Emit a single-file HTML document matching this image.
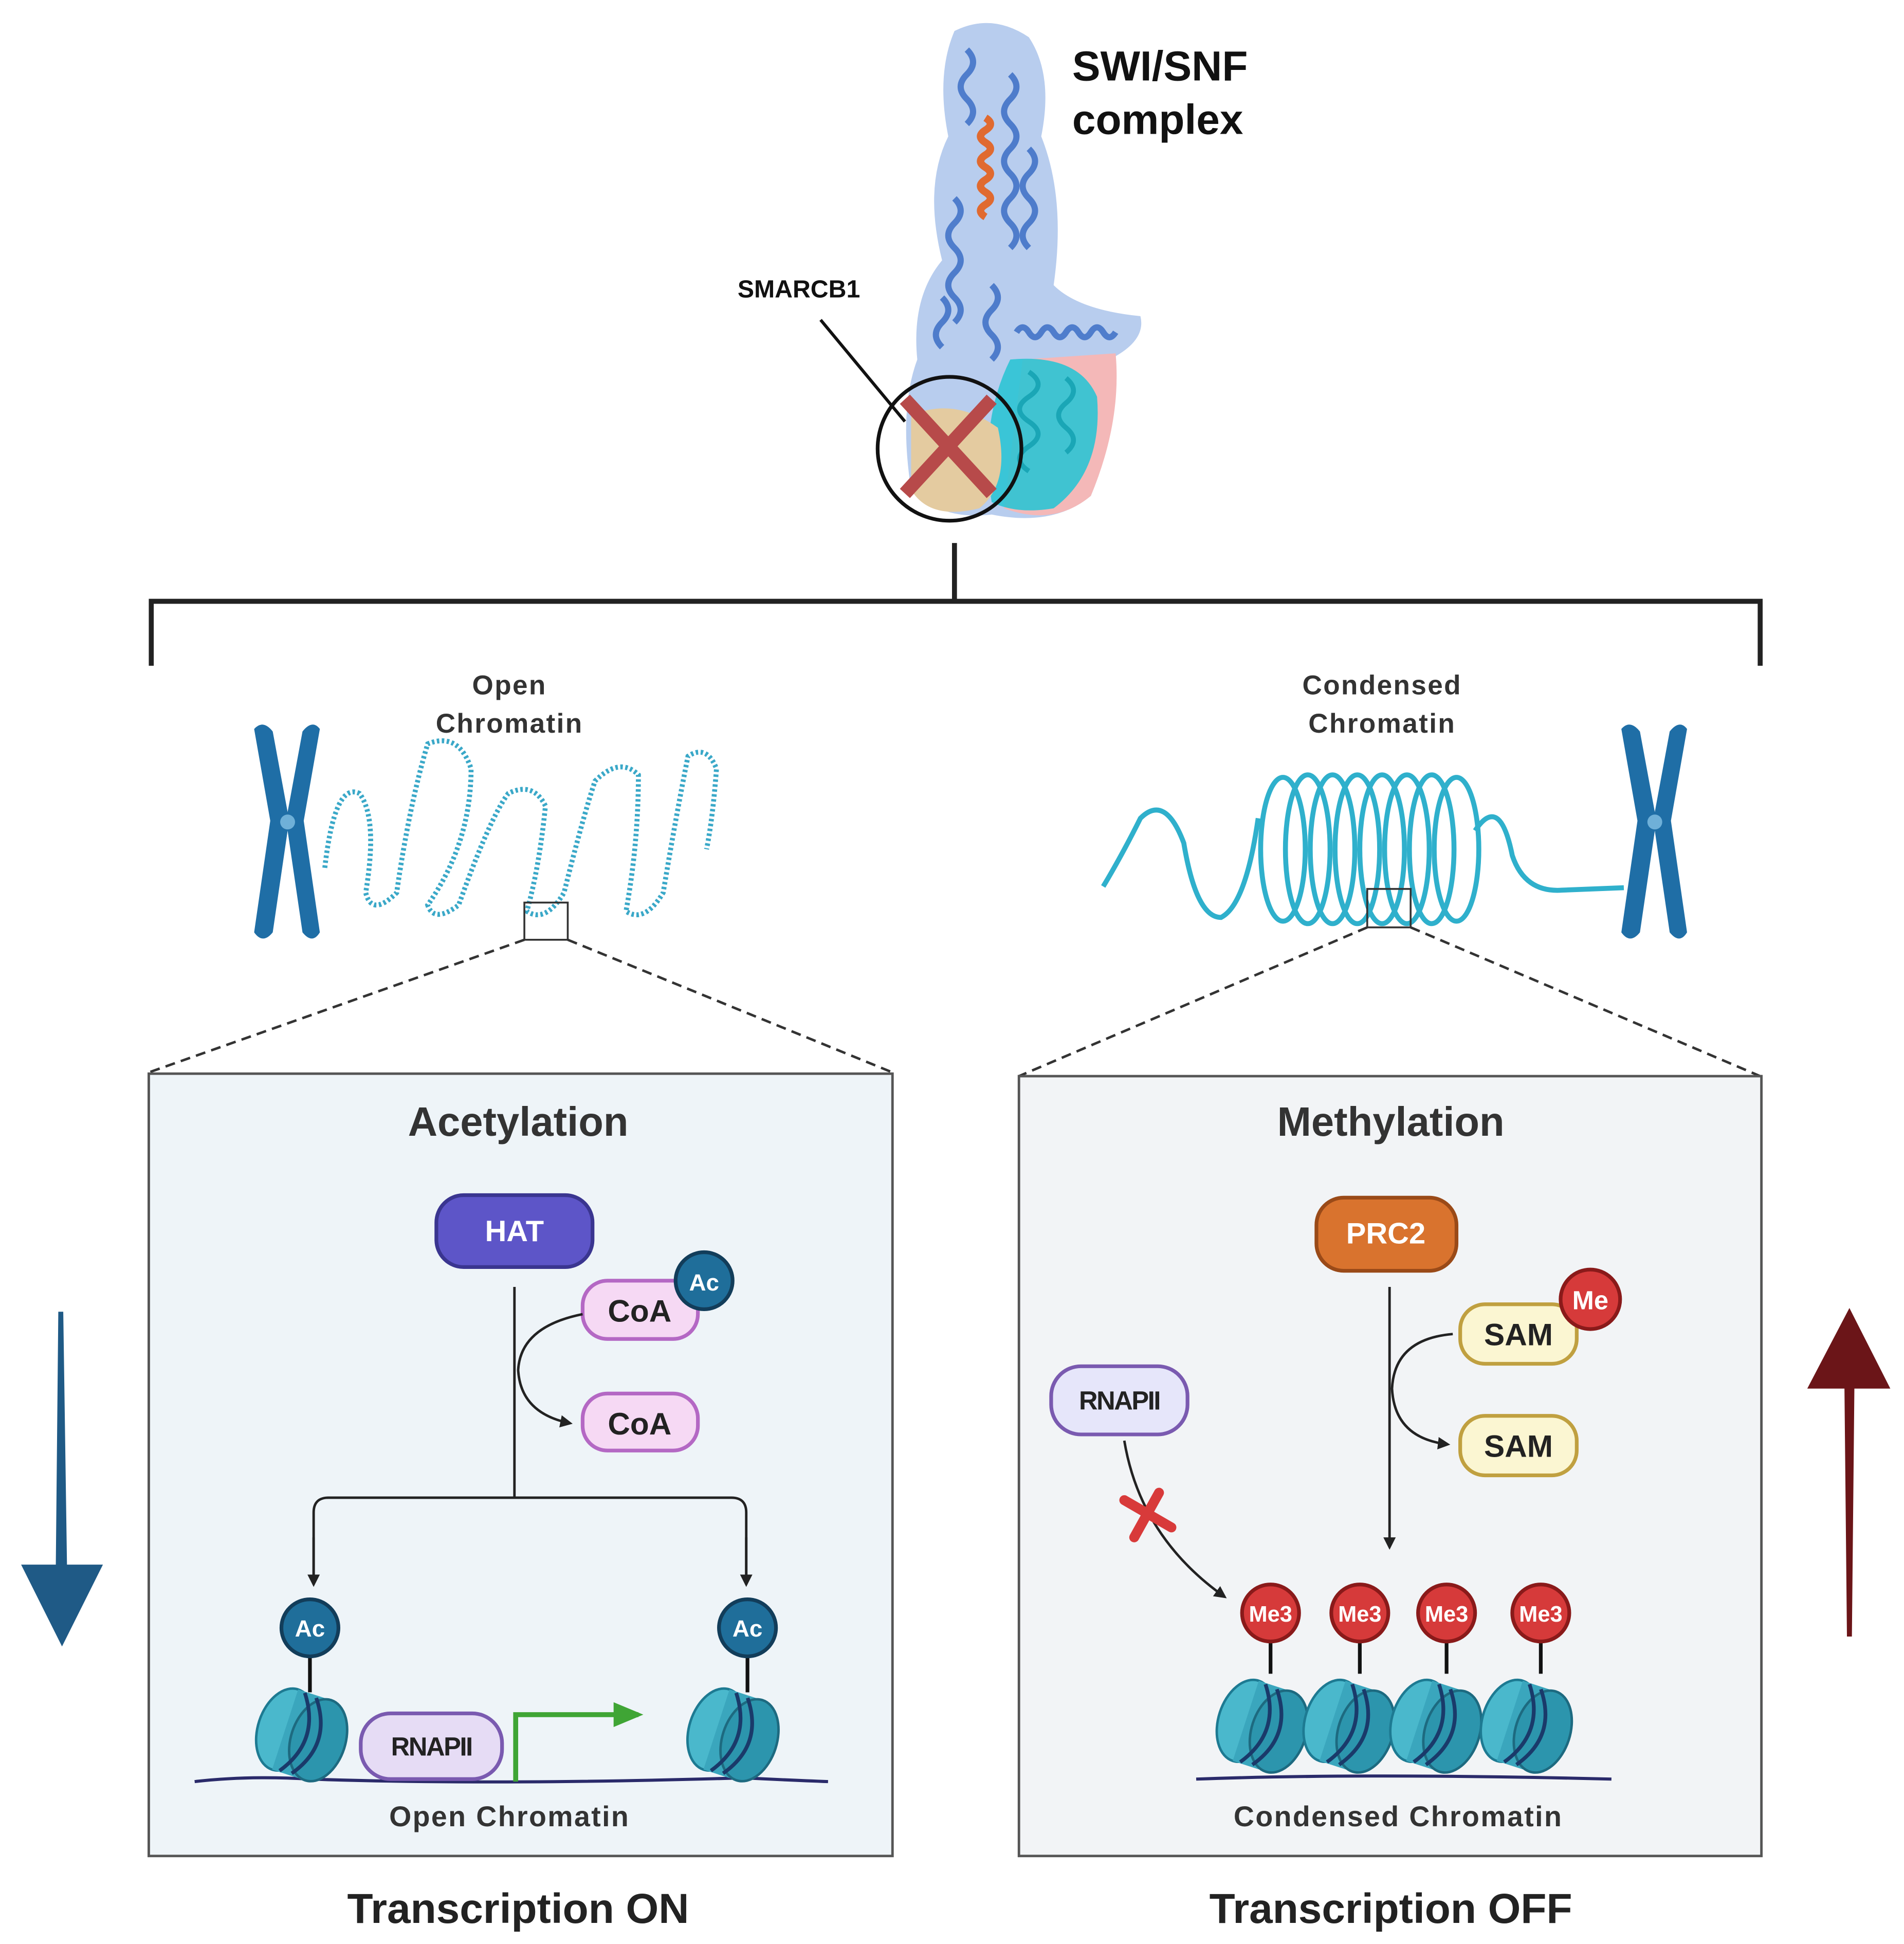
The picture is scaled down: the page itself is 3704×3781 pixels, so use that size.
<!DOCTYPE html>
<html><head><meta charset="utf-8"><style>
html,body{margin:0;padding:0;background:#fff}
svg{display:block}
text{font-family:"Liberation Sans",sans-serif}
</style></head><body>
<svg width="3704" height="3781" viewBox="0 0 1536 1568" xmlns="http://www.w3.org/2000/svg">
<defs>
<marker id="ah" markerWidth="10" markerHeight="10" refX="8" refY="5" orient="auto" markerUnits="userSpaceOnUse"><path d="M0,0 L10,5 L0,10 Z" fill="#222"/></marker>
<marker id="ahg" markerWidth="24" markerHeight="20" refX="20" refY="10" orient="auto" markerUnits="userSpaceOnUse"><path d="M0,0 L24,10 L0,20 Z" fill="#3fa535"/></marker>
<g id="nuc">
<ellipse cx="0" cy="0" rx="22" ry="34" fill="#4ab8cc" stroke="#1d7a92" stroke-width="2"/>
<rect x="0" y="-34" width="28" height="68" fill="#3aa6bd"/>
<ellipse cx="28" cy="0" rx="22" ry="34" fill="#2c95ad" stroke="#1d6a80" stroke-width="2"/>
<path d="M6,-33 Q30,0 6,33 M16,-32 Q40,0 16,32" stroke="#1a3a6a" stroke-width="3" fill="none"/>
</g>
</defs>
<rect width="1536" height="1568" fill="#fff"/>

<!-- protein -->
<g>
<path d="M770,25 Q800,10 830,30 Q850,60 840,110 Q860,160 850,230 Q870,250 920,255 Q925,275 895,290 Q905,340 880,400 Q850,425 800,415 Q760,420 735,395 Q725,330 740,290 Q735,240 760,210 Q745,150 765,110 Q755,60 770,25 Z" fill="#b8cdee"/>
<path d="M825,290 L900,285 Q905,340 880,400 Q850,425 810,410 Z" fill="#f4b8b8"/>
<path d="M815,290 Q870,285 885,320 Q890,380 850,410 Q820,415 800,405 Q790,340 815,290 Z" fill="#2cc4d4" opacity="0.9"/>
<path d="M735,335 Q770,320 805,345 Q815,390 790,410 Q750,420 735,395 Z" fill="#e4cba0"/>
<g stroke="#3c6fc6" stroke-width="5" fill="none" opacity="0.85">
<path d="M780,40 q10,10 0,20 q-10,10 0,20 q10,10 0,20"/>
<path d="M815,60 q10,10 0,20 q-10,10 0,20 q10,10 0,20 q-10,10 0,20 q10,10 0,20 q-10,10 0,20 q10,10 0,20"/>
<path d="M830,120 q10,10 0,20 q-10,10 0,20 q10,10 0,20 q-10,10 0,20"/>
<path d="M770,160 q10,10 0,20 q-10,10 0,20 q10,10 0,20 q-10,10 0,20 q10,10 0,20"/>
<path d="M800,230 q10,10 0,20 q-10,10 0,20 q10,10 0,20"/>
<path d="M760,240 q10,10 0,20 q-10,10 0,20"/>
<path d="M820,268 q5,-8 10,0 q5,8 10,0 q5,-8 10,0 q5,8 10,0 q5,-8 10,0 q5,8 10,0 q5,-8 10,0 q5,8 10,0"/>
</g>
<path d="M795,95 q8,5 0,10 q-8,5 0,10 q8,5 0,10 q-8,5 0,10 q8,5 0,10 q-8,5 0,10 q8,5 0,10 q-8,5 0,10" stroke="#e06a30" stroke-width="6" fill="none"/>
<g stroke="#1aa6b6" stroke-width="4" fill="none">
<path d="M830,300 q15,10 0,20 q-15,10 0,20 q15,10 0,20 q-15,10 0,20"/>
<path d="M860,305 q12,10 0,20 q-12,10 0,20 q12,10 0,20"/>
</g>
<text x="865" y="65" font-size="34" font-weight="bold" fill="#111">SWI/SNF</text>
<text x="865" y="108" font-size="34" font-weight="bold" fill="#111">complex</text>
<text x="595" y="240" font-size="20" font-weight="bold" fill="#111">SMARCB1</text>
<line x1="662" y1="258" x2="730" y2="340" stroke="#111" stroke-width="2.5"/>
<line x1="730" y1="322" x2="800" y2="398" stroke="#b74a4a" stroke-width="11"/>
<line x1="800" y1="322" x2="730" y2="398" stroke="#b74a4a" stroke-width="11"/>
<circle cx="766" cy="362" r="58" fill="none" stroke="#111" stroke-width="3"/>
</g>

<!-- bracket -->
<path d="M770,438 V485 M122,537 V485 H1420 V537" stroke="#222" stroke-width="4" fill="none"/>

<g font-size="22" font-weight="bold" text-anchor="middle" fill="#333" letter-spacing="1">
<text x="411" y="560">Open</text>
<text x="411" y="591">Chromatin</text>
<text x="1115" y="560">Condensed</text>
<text x="1115" y="591">Chromatin</text>
</g>

<!-- chromosomes -->
<g id="chr" fill="#1f6ea6">
<path d="M205,588 Q212,580 220,590 L232,655 L244,590 Q252,580 258,588 L245,662 L258,752 Q252,762 244,752 L232,670 L220,752 Q212,762 205,752 L218,662 Z"/>
<circle cx="232" cy="663" r="6" fill="#6fb0d8"/>
</g>
<use href="#chr" x="1103"/>

<!-- open chromatin fiber -->
<path d="M262,700 Q270,630 290,640 Q305,660 295,720 Q300,740 320,720 Q330,650 345,600 Q370,590 380,620 Q380,680 345,730 Q350,745 370,730 Q395,660 410,640 Q430,630 440,650 Q435,700 425,735 Q440,745 455,720 Q470,660 480,630 Q500,610 515,625 Q515,680 505,735 Q520,745 535,720 Q545,660 555,610 Q570,600 578,620 Q575,660 570,685" stroke="#3aa8c8" stroke-width="4" stroke-dasharray="2 2" fill="none"/>
<rect x="423" y="728" width="35" height="30" fill="none" stroke="#333" stroke-width="1.5"/>
<path d="M423,758 L120,865 M458,758 L720,865" stroke="#333" stroke-width="2" stroke-dasharray="8 5"/>

<!-- condensed fiber -->
<g stroke="#2fb0cc" stroke-width="4" fill="none">
<path d="M890,715 Q905,690 920,660 Q940,640 955,680 Q965,740 985,740 Q1005,730 1015,660"/>
<ellipse cx="1035" cy="685" rx="18" ry="58"/><ellipse cx="1055" cy="685" rx="18" ry="60"/>
<ellipse cx="1075" cy="685" rx="18" ry="60"/><ellipse cx="1095" cy="685" rx="18" ry="60"/>
<ellipse cx="1115" cy="685" rx="18" ry="60"/><ellipse cx="1135" cy="685" rx="18" ry="60"/>
<ellipse cx="1155" cy="685" rx="18" ry="60"/><ellipse cx="1175" cy="685" rx="18" ry="58"/>
<path d="M1190,670 Q1210,640 1220,690 Q1230,720 1260,718 L1310,716"/>
</g>
<rect x="1103" y="717" width="35" height="31" fill="none" stroke="#333" stroke-width="1.5"/>
<path d="M1103,748 L822,868 M1138,748 L1420,868" stroke="#333" stroke-width="2" stroke-dasharray="8 5"/>

<!-- panels -->
<rect x="120" y="866" width="600" height="631" fill="#eef4f8" stroke="#555" stroke-width="2"/>
<rect x="822" y="868" width="599" height="629" fill="#f2f4f6" stroke="#555" stroke-width="2"/>

<!-- left panel -->
<text x="418" y="916" font-size="33" font-weight="bold" text-anchor="middle" fill="#333">Acetylation</text>
<rect x="352" y="964" width="126" height="58" rx="22" fill="#5d55c8" stroke="#3a3590" stroke-width="3"/>
<text x="415" y="1001" font-size="24" font-weight="bold" text-anchor="middle" fill="#fff">HAT</text>
<path d="M415,1038 V1208" stroke="#222" stroke-width="2"/>
<path d="M253,1278 V1220 Q253,1208 265,1208 H590 Q602,1208 602,1220 V1278" stroke="#222" stroke-width="2" fill="none"/>
<path d="M253,1240 V1278" stroke="#222" stroke-width="2" marker-end="url(#ah)"/>
<path d="M602,1240 V1278" stroke="#222" stroke-width="2" marker-end="url(#ah)"/>
<rect x="470" y="1033" width="93" height="47" rx="20" fill="#f6d9f4" stroke="#b468c4" stroke-width="3"/>
<text x="516" y="1066" font-size="25" font-weight="bold" text-anchor="middle" fill="#222">CoA</text>
<circle cx="568" cy="1033" r="23" fill="#1f6e9a" stroke="#123d5a" stroke-width="3"/>
<text x="568" y="1041" font-size="19" font-weight="bold" text-anchor="middle" fill="#fff">Ac</text>
<path d="M470,1060 Q420,1070 418,1105 Q420,1140 460,1148" stroke="#222" stroke-width="2" fill="none" marker-end="url(#ah)"/>
<rect x="470" y="1124" width="93" height="46" rx="20" fill="#f6d9f4" stroke="#b468c4" stroke-width="3"/>
<text x="516" y="1157" font-size="25" font-weight="bold" text-anchor="middle" fill="#222">CoA</text>
<path d="M157,1437 Q200,1432 250,1435 Q400,1440 600,1434 Q640,1436 668,1437" stroke="#2a2a6a" stroke-width="2.5" fill="none"/>
<line x1="250" y1="1335" x2="250" y2="1365" stroke="#111" stroke-width="3"/>
<line x1="603" y1="1335" x2="603" y2="1365" stroke="#111" stroke-width="3"/>
<use href="#nuc" transform="translate(230,1395) rotate(18)"/>
<use href="#nuc" transform="translate(578,1395) rotate(18)"/>
<circle cx="250" cy="1313" r="23" fill="#1f6e9a" stroke="#123d5a" stroke-width="3"/>
<text x="250" y="1320" font-size="19" font-weight="bold" text-anchor="middle" fill="#fff">Ac</text>
<circle cx="603" cy="1313" r="23" fill="#1f6e9a" stroke="#123d5a" stroke-width="3"/>
<text x="603" y="1320" font-size="19" font-weight="bold" text-anchor="middle" fill="#fff">Ac</text>
<path d="M416,1437 V1383 H515" stroke="#3fa535" stroke-width="4" fill="none" marker-end="url(#ahg)"/>
<rect x="291" y="1382" width="114" height="53" rx="24" fill="#e6dcf5" stroke="#7a5ab0" stroke-width="3"/>
<text x="348" y="1416" font-size="21" font-weight="bold" text-anchor="middle" fill="#222" letter-spacing="-1">RNAPII</text>
<text x="411" y="1473" font-size="23" font-weight="bold" text-anchor="middle" fill="#333" letter-spacing="1">Open Chromatin</text>

<!-- right panel -->
<text x="1122" y="916" font-size="33" font-weight="bold" text-anchor="middle" fill="#333">Methylation</text>
<rect x="1062" y="966" width="113" height="59" rx="22" fill="#d9732e" stroke="#9a4a18" stroke-width="3"/>
<text x="1118" y="1003" font-size="24" font-weight="bold" text-anchor="middle" fill="#fff">PRC2</text>
<path d="M1121,1038 V1248" stroke="#222" stroke-width="2" marker-end="url(#ah)"/>
<rect x="1178" y="1052" width="94" height="48" rx="20" fill="#fbf6d2" stroke="#c0a040" stroke-width="3"/>
<text x="1225" y="1085" font-size="25" font-weight="bold" text-anchor="middle" fill="#222">SAM</text>
<circle cx="1283" cy="1048" r="24" fill="#d63a3a" stroke="#8a1a1a" stroke-width="3"/>
<text x="1283" y="1056" font-size="21" font-weight="bold" text-anchor="middle" fill="#fff">Me</text>
<path d="M1172,1076 Q1125,1080 1123,1120 Q1125,1160 1168,1165" stroke="#222" stroke-width="2" fill="none" marker-end="url(#ah)"/>
<rect x="1178" y="1142" width="94" height="48" rx="20" fill="#fbf6d2" stroke="#c0a040" stroke-width="3"/>
<text x="1225" y="1175" font-size="25" font-weight="bold" text-anchor="middle" fill="#222">SAM</text>
<rect x="848" y="1102" width="110" height="55" rx="24" fill="#e6e6fa" stroke="#7a5ab0" stroke-width="3"/>
<text x="903" y="1137" font-size="21" font-weight="bold" text-anchor="middle" fill="#222" letter-spacing="-1">RNAPII</text>
<path d="M907,1162 Q920,1240 988,1288" stroke="#222" stroke-width="2" fill="none" marker-end="url(#ah)"/>
<path d="M907,1210 L945,1232 M935,1204 L915,1240" stroke="#d83a3a" stroke-width="8" stroke-linecap="round"/>
<path d="M965,1435 Q1100,1430 1300,1435" stroke="#2a2a6a" stroke-width="2.5" fill="none"/>
<line x1="1025" y1="1320" x2="1025" y2="1350" stroke="#111" stroke-width="3"/>
<line x1="1097" y1="1320" x2="1097" y2="1350" stroke="#111" stroke-width="3"/>
<line x1="1167" y1="1320" x2="1167" y2="1350" stroke="#111" stroke-width="3"/>
<line x1="1243" y1="1320" x2="1243" y2="1350" stroke="#111" stroke-width="3"/>
<use href="#nuc" transform="translate(1005,1388) rotate(18)"/>
<use href="#nuc" transform="translate(1075,1388) rotate(18)"/>
<use href="#nuc" transform="translate(1145,1388) rotate(18)"/>
<use href="#nuc" transform="translate(1218,1388) rotate(18)"/>
<g font-size="18" font-weight="bold" text-anchor="middle" fill="#fff">
<circle cx="1025" cy="1301" r="23" fill="#d63a3a" stroke="#8a1a1a" stroke-width="3"/><text x="1025" y="1308">Me3</text>
<circle cx="1097" cy="1301" r="23" fill="#d63a3a" stroke="#8a1a1a" stroke-width="3"/><text x="1097" y="1308">Me3</text>
<circle cx="1167" cy="1301" r="23" fill="#d63a3a" stroke="#8a1a1a" stroke-width="3"/><text x="1167" y="1308">Me3</text>
<circle cx="1243" cy="1301" r="23" fill="#d63a3a" stroke="#8a1a1a" stroke-width="3"/><text x="1243" y="1308">Me3</text>
</g>
<text x="1128" y="1473" font-size="23" font-weight="bold" text-anchor="middle" fill="#333" letter-spacing="1">Condensed Chromatin</text>

<!-- big arrows -->
<path d="M47,1058 L51,1058 L54,1262 L83,1262 L50,1328 L17,1262 L45,1262 Z" fill="#1f5a86"/>
<path d="M1492,1055 L1525,1120 L1496,1120 L1494,1320 L1490,1320 L1488,1120 L1458,1120 Z" fill="#6b1518"/>

<text x="418" y="1551" font-size="34" font-weight="bold" text-anchor="middle" fill="#222">Transcription ON</text>
<text x="1122" y="1551" font-size="34" font-weight="bold" text-anchor="middle" fill="#222">Transcription OFF</text>
</svg>
</body></html>
